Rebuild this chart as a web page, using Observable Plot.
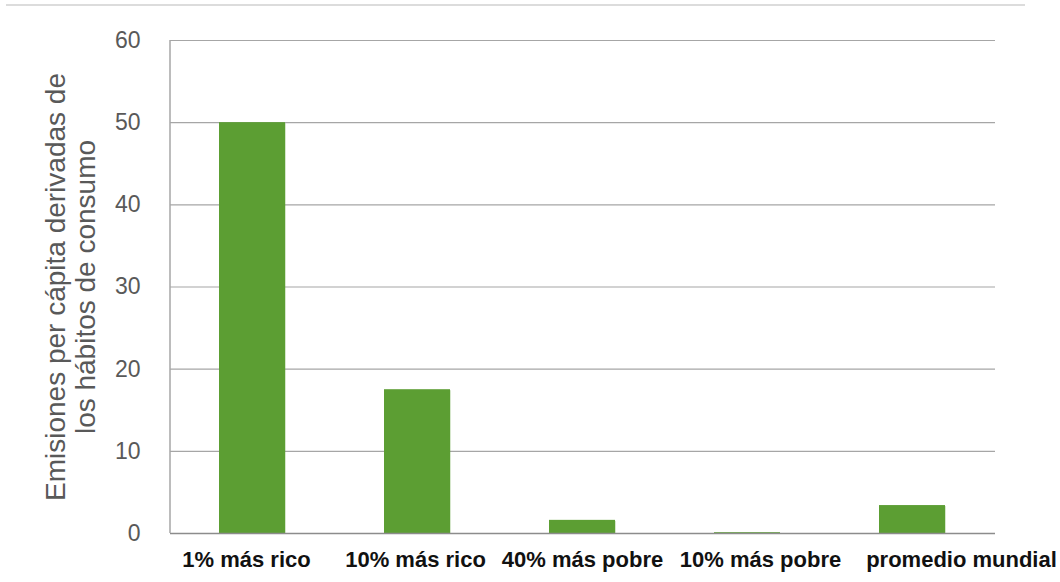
<!DOCTYPE html>
<html><head><meta charset="utf-8">
<script src="https://cdn.jsdelivr.net/npm/d3@7"></script>
<script src="https://cdn.jsdelivr.net/npm/@observablehq/plot@0.6"></script>
<style>
body{margin:0;background:#fff;}
#wrap{position:relative;width:1060px;height:582px;}
#topline{position:absolute;left:6px;top:4px;width:1019px;height:2px;background:#dcdcdc;}
</style></head>
<body><div id="wrap"><div id="topline"></div></div>
<script>
const categories = ["1% más rico","10% más rico","40% más pobre","10% más pobre","promedio mundial"];
const values = [50, 17.5, 1.6, 0.1, 3.4];
const yTicks = [0,10,20,30,40,50,60];
const yLabelLines = ["Emisiones per cápita derivadas de","los hábitos de consumo"];

const data = categories.map((c,i)=>({cat:c, v:values[i]}));

// x tick labels, drawn as text; Excel nudges crowded labels sideways
const labelMark = (cats, dx) => Plot.text(cats, {x:d=>d, text:d=>d, frameAnchor:"bottom", dy:33, dx,
  fontSize:22, fontWeight:"bold", fill:"#111"});

const chart = Plot.plot({
  width:1060, height:582,
  marginLeft:170, marginRight:65, marginTop:40, marginBottom:49,
  style:{fontFamily:"Liberation Sans, Arial, sans-serif", background:"transparent"},
  x:{domain:categories, paddingInner:0.6, paddingOuter:0.3, label:null, axis:null},
  y:{domain:[0,60], ticks:yTicks, label:null},
  marks:[
    Plot.ruleY(yTicks.filter(d=>d>0), {stroke:"#a6a6a6", strokeWidth:1.2}),
    Plot.barY(data, {x:"cat", y:"v", fill:"#5c9e33", dx:1, dy:1, fillOpacity:0.25}),
    Plot.barY(data, {x:"cat", y:"v", fill:"#5c9e33"}),
    Plot.ruleY([0], {stroke:"#8c8c8c", strokeWidth:1.5}),
    Plot.axisY({ticks:yTicks, tickSize:0, tickPadding:30, fontSize:23, fill:"#595959", label:null}),
    labelMark([categories[0]], -6),
    labelMark([categories[1]], -2),
    labelMark([categories[2]], 0),
    labelMark([categories[3]], 13),
    labelMark([categories[4]], 49),
    Plot.text([yLabelLines.join("\n")], {frameAnchor:"left", textAnchor:"middle", rotate:-90, dx:-100, lineHeight:1.07, fontSize:28, fill:"#595959", text:d=>d})
  ]
});
document.getElementById("wrap").appendChild(chart);
const svg = d3.select(chart);
const ys = chart.scale("y");
svg.append("line").attr("x1",170).attr("x2",170)
  .attr("y1", ys.apply(60)).attr("y2", ys.apply(0))
  .attr("stroke","#a6a6a6").attr("stroke-width",1.5);
</script></body></html>
